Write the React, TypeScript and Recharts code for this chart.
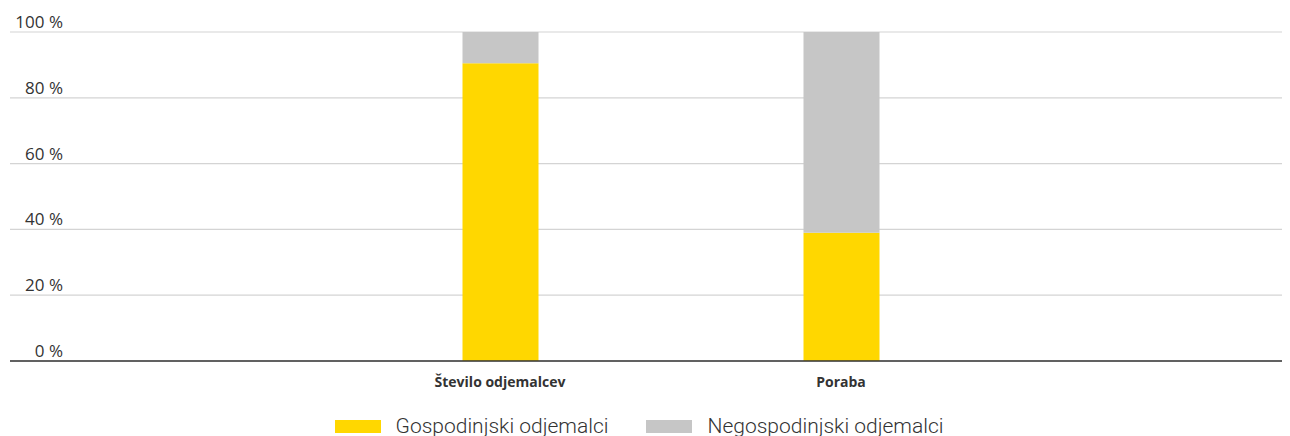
import React from 'react';
import { BarChart, Bar, XAxis, YAxis, CartesianGrid, Legend } from 'recharts';

const categories = ['Število odjemalcev', 'Poraba'];
const gospodinjski = [90.5, 39];
const negospodinjski = [9.5, 61];
const yTicks = [0, 20, 40, 60, 80, 100];

const seriesNames = ['Gospodinjski odjemalci', 'Negospodinjski odjemalci'];
const YELLOW = '#ffd700';
const GREY = '#c6c6c6';
const FONT = 'Roboto, "DejaVu Sans", sans-serif';
const FONT_WIDE = '"Open Sans", Roboto, sans-serif';

const data = categories.map((name, i) => ({
  name,
  gosp: gospodinjski[i],
  negosp: negospodinjski[i],
}));

const YTick = (props: any) => {
  const { y, payload } = props;
  return (
    <text x={55} y={y - 4} textAnchor="end" fill="#333" fontSize={17} fontFamily={FONT_WIDE}>
      {`${payload.value} %`}
    </text>
  );
};

const XTick = (props: any) => {
  const { x, y, payload } = props;
  return (
    <text x={x} y={y + 26} textAnchor="middle" fill="#333" fontSize={14} fontWeight={700} fontFamily={FONT_WIDE}>
      {payload.value}
    </text>
  );
};

const LegendContent = () => (
  <div
    style={{
      display: 'flex',
      justifyContent: 'center',
      alignItems: 'center',
      height: 28,
      paddingRight: 20,
      fontFamily: FONT,
      fontSize: 21,
      fontWeight: 300,
      color: '#333',
    }}
  >
    {seriesNames.map((n, i) => (
      <div key={n} style={{ display: 'flex', alignItems: 'center', marginRight: i === 0 ? 38 : 0 }}>
        <span style={{ display: 'inline-block', width: 46, height: 13, background: i === 0 ? YELLOW : GREY, marginRight: 15 }} />
        <span>{n}</span>
      </div>
    ))}
  </div>
);

export default function App() {
  return (
    <BarChart
      width={1282}
      height={428}
      data={data}
      margin={{ top: 24, right: 0, left: 2, bottom: 45 }}
    >
      <CartesianGrid horizontal vertical={false} stroke="#d4d4d4" strokeWidth={1.2} />
      <YAxis
        domain={[0, 100]}
        ticks={yTicks}
        width={60}
        mirror
        axisLine={false}
        tickLine={false}
        tick={<YTick />}
        interval={0}
      />
      <XAxis
        dataKey="name"
        height={30}
        padding={{ left: 319.5, right: 278.5 }}
        axisLine={{ stroke: '#333', strokeWidth: 1.5 }}
        tickLine={false}
        tickSize={0}
        tickMargin={0}
        tick={<XTick />}
        interval={0}
      />
      <Legend
        layout="horizontal"
        verticalAlign="middle"
        align="center"
        content={<LegendContent />}
        wrapperStyle={{ top: 404, left: 0, width: 1282, height: 28 }}
      />
      <Bar dataKey="gosp" name={seriesNames[0]} stackId="a" fill={YELLOW} barSize={76} isAnimationActive={false} />
      <Bar dataKey="negosp" name={seriesNames[1]} stackId="a" fill={GREY} barSize={76} isAnimationActive={false} />
    </BarChart>
  );
}
